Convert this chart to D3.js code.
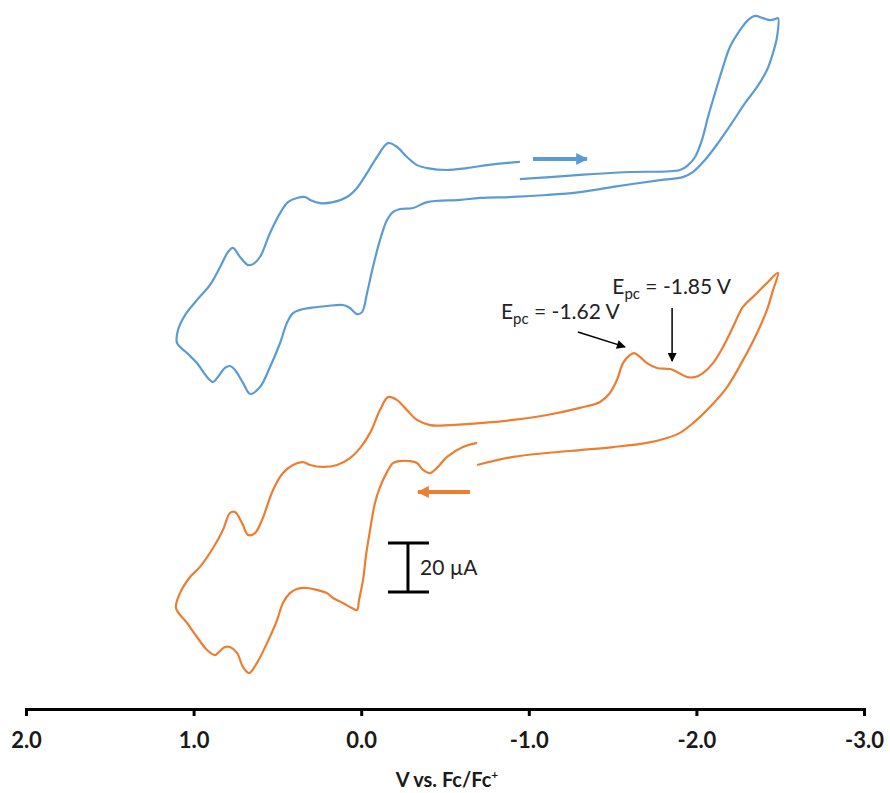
<!DOCTYPE html>
<html>
<head>
<meta charset="utf-8">
<script src="https://cdn.jsdelivr.net/npm/d3@7"></script>
<style>
  html, body { margin: 0; padding: 0; background: #ffffff; }
  svg { display: block; }
  text { font-family: Lato, "Open Sans", "DejaVu Sans", sans-serif; }
</style>
</head>
<body>
<div id="chart"></div>
<script>
// ---- Data (potential in V vs Fc/Fc+, current in µA with arbitrary offsets) ----
const blueV = [-0.947,-1.127,-1.305,-1.604,-1.902,-1.950,-1.992,-2.033,-2.069,-2.111,-2.153,-2.200,-2.260,-2.308,-2.350,-2.397,-2.439,-2.469,-2.487,-2.481,-2.457,-2.421,-2.362,-2.290,-2.212,-2.129,-2.051,-1.980,-1.920,-1.783,-1.502,-1.305,-1.109,-0.906,-0.709,-0.590,-0.393,-0.309,-0.232,-0.190,-0.154,-0.112,-0.070,-0.035,-0.005,0.025,0.067,0.109,0.204,0.305,0.365,0.407,0.443,0.484,0.544,0.604,0.663,0.705,0.753,0.783,0.813,0.860,0.884,0.920,0.980,1.039,1.099,1.093,1.051,0.980,0.902,0.842,0.795,0.765,0.723,0.675,0.646,0.604,0.544,0.484,0.437,0.383,0.335,0.305,0.246,0.168,0.085,0.025,-0.035,-0.094,-0.160,-0.214,-0.273,-0.333,-0.393,-0.512,-0.631,-0.751,-0.870,-0.947];
const blueI = [216.3,217.1,218.0,219.2,220.0,222.0,225.3,232.2,241.6,251.4,260.8,270.2,277.1,281.2,282.9,282.0,281.2,281.6,282.0,274.3,267.8,260.8,253.9,247.3,239.2,231.0,224.1,219.2,217.1,215.9,213.1,211.0,209.8,209.0,208.6,207.8,206.9,204.5,204.1,202.9,199.6,191.4,180.4,169.8,162.0,161.2,163.7,164.9,164.5,163.7,162.9,161.6,157.6,149.4,139.6,131.4,128.6,133.1,138.4,140.0,139.2,135.1,133.5,135.5,141.2,145.3,149.4,154.7,160.8,166.9,173.1,180.4,186.5,188.2,184.5,181.2,181.6,184.5,194.3,202.4,206.9,208.6,209.0,207.8,206.5,206.9,209.0,212.7,218.8,225.3,231.0,229.4,225.3,222.0,220.8,220.0,220.8,222.0,222.9,223.3];

const orangeV = [-0.691,-0.607,-0.512,-0.452,-0.411,-0.369,-0.333,-0.291,-0.232,-0.190,-0.154,-0.112,-0.082,-0.053,-0.029,-0.011,0.013,0.025,0.055,0.109,0.168,0.204,0.264,0.323,0.383,0.425,0.467,0.502,0.562,0.622,0.669,0.705,0.741,0.783,0.813,0.854,0.872,0.920,0.980,1.039,1.105,1.081,1.021,0.962,0.884,0.825,0.783,0.753,0.711,0.675,0.634,0.592,0.526,0.467,0.407,0.347,0.305,0.228,0.144,0.067,0.007,-0.053,-0.112,-0.160,-0.214,-0.273,-0.333,-0.411,-0.530,-0.709,-0.906,-1.109,-1.305,-1.425,-1.484,-1.526,-1.562,-1.604,-1.628,-1.663,-1.705,-1.765,-1.843,-1.884,-1.944,-1.992,-2.039,-2.099,-2.159,-2.218,-2.278,-2.362,-2.421,-2.487,-2.457,-2.421,-2.362,-2.278,-2.183,-2.081,-1.980,-1.902,-1.825,-1.705,-1.502,-1.305,-1.109,-0.906,-0.691];
const orangeI = [108.6,106.9,102.9,98.4,96.3,97.6,100.4,101.2,101.2,100.4,96.7,90.6,84.1,73.1,62.9,52.7,44.5,40.4,41.2,43.3,45.3,47.3,48.6,49.4,49.0,47.3,43.3,36.3,26.9,18.8,14.7,17.1,22.9,25.3,25.3,22.9,22.0,24.1,29.4,35.1,41.2,47.3,53.9,58.0,65.7,73.1,80.0,80.4,75.9,71.0,71.8,77.1,89.4,96.3,99.6,100.8,99.6,98.8,99.6,102.4,106.5,112.7,122.0,127.3,126.1,122.0,118.0,115.9,115.9,116.7,118.0,120.0,122.9,125.3,129.0,134.3,141.2,144.5,145.3,143.7,141.2,139.2,138.8,137.6,135.5,135.5,137.1,141.2,147.8,155.9,164.1,169.8,173.9,178.0,171.0,162.9,153.5,142.4,131.4,123.3,116.7,112.7,110.6,108.6,106.9,105.7,104.5,102.9,99.6];

const tickValues = [2, 1, 0, -1, -2, -3];
const tickLabels = ["2.0", "1.0", "0.0", "-1.0", "-2.0", "-3.0"];
const xTitle = "V vs. Fc/Fc";

// scan-direction arrows [V start, V end, current]
const blueArrow = [-1.025, -1.347, 224.5];
const orangeArrow = [-0.649, -0.339, 88.6];
// peak annotations
const peakLabels = ["-1.62 V", "-1.85 V"];
const peakLabelPos = [[-0.834, 159.2], [-1.498, 169.4]];   // [V, µA] of text start (baseline)
const peakArrowFrom = [[-1.293, 153.9], [-1.855, 163.7]];
const peakArrowTo = [[-1.574, 147.8], [-1.855, 142.0]];
// scale bar: [V, I low, I high]
const scaleBar = [-0.279, 47.8, 67.8];
const scaleLabel = "20 µA";

// ---- Layout ----
const W = 890, H = 793;
const svg = d3.select("#chart").append("svg").attr("width", W).attr("height", H);

const x = d3.scaleLinear().domain([2, -3]).range([26, 864]);
const y = d3.scaleLinear().domain([0, 289.4]).range([709, 0]);

const blueColor = "#5B9BD5", orangeColor = "#ED7D31";

const defs = svg.append("defs");
function marker(id, color, w, h) {
  defs.append("marker").attr("id", id).attr("viewBox", "0 0 10 10")
    .attr("refX", 9).attr("refY", 5).attr("markerWidth", w).attr("markerHeight", h)
    .attr("markerUnits", "userSpaceOnUse").attr("orient", "auto")
    .append("path").attr("d", "M0,0 L10,5 L0,10 Z").attr("fill", color);
}
marker("mBlack", "#000", 10, 9);
marker("mBlue", blueColor, 14, 12);
marker("mOrange", orangeColor, 14, 12);

const line = d3.line().x(d => x(d[0])).y(d => y(d[1])).curve(d3.curveCatmullRom.alpha(0.5));

svg.append("path").datum(blueV.map((v, i) => [v, blueI[i]]))
  .attr("d", line).attr("fill", "none").attr("stroke", blueColor).attr("stroke-width", 2.2)
  .attr("stroke-linejoin", "round");
svg.append("path").datum(orangeV.map((v, i) => [v, orangeI[i]]))
  .attr("d", line).attr("fill", "none").attr("stroke", orangeColor).attr("stroke-width", 2.2)
  .attr("stroke-linejoin", "round");

// scan arrows
[[blueArrow, blueColor, "mBlue"], [orangeArrow, orangeColor, "mOrange"]].forEach(([a, c, m]) => {
  svg.append("line").attr("x1", x(a[0])).attr("x2", x(a[1])).attr("y1", y(a[2])).attr("y2", y(a[2]))
    .attr("stroke", c).attr("stroke-width", 4).attr("marker-end", `url(#${m})`);
});

// peak annotations
peakLabels.forEach((lab, i) => {
  const t = svg.append("text").attr("x", x(peakLabelPos[i][0])).attr("y", y(peakLabelPos[i][1]))
    .attr("font-size", 21).attr("fill", "#222");
  t.append("tspan").text("E");
  t.append("tspan").attr("font-size", 15).attr("dy", 5).text("pc");
  t.append("tspan").attr("dy", -5).text(" = " + lab);
  svg.append("line").attr("x1", x(peakArrowFrom[i][0])).attr("y1", y(peakArrowFrom[i][1]))
    .attr("x2", x(peakArrowTo[i][0])).attr("y2", y(peakArrowTo[i][1]))
    .attr("stroke", "#000").attr("stroke-width", 1.5).attr("marker-end", "url(#mBlack)");
});

// scale bar
const sb = svg.append("g");
sb.append("line").attr("x1", x(scaleBar[0])).attr("x2", x(scaleBar[0]))
  .attr("y1", y(scaleBar[1])).attr("y2", y(scaleBar[2])).attr("stroke", "#000").attr("stroke-width", 3);
[scaleBar[1], scaleBar[2]].forEach(v => {
  sb.append("line").attr("x1", x(scaleBar[0]) - 20).attr("x2", x(scaleBar[0]) + 21)
    .attr("y1", y(v)).attr("y2", y(v)).attr("stroke", "#000").attr("stroke-width", 3);
});
sb.append("text").attr("x", x(scaleBar[0]) + 12).attr("y", y((scaleBar[1] + scaleBar[2]) / 2) + 8)
  .attr("font-size", 21).attr("fill", "#222").text(scaleLabel);

// x axis
const axis = d3.axisBottom(x).tickValues(tickValues).tickFormat((d, i) => tickLabels[i])
  .tickSizeInner(7).tickSizeOuter(7).tickPadding(16);
const ax = svg.append("g").attr("transform", "translate(0,709)").call(axis);
ax.select(".domain").attr("stroke", "#000").attr("stroke-width", 3);
ax.selectAll(".tick line").attr("stroke", "#000").attr("stroke-width", 3);
ax.selectAll(".tick text").attr("font-family", "Lato, sans-serif").attr("font-size", 22)
  .attr("font-weight", "bold").attr("fill", "#1a1a1a");

const tt = svg.append("text").attr("x", 447).attr("y", 787).attr("text-anchor", "middle")
  .attr("font-size", 20).attr("font-weight", "bold").attr("fill", "#1a1a1a");
tt.append("tspan").text(xTitle);
tt.append("tspan").attr("font-size", 12).attr("dy", -8).text("+");
</script>
</body>
</html>
